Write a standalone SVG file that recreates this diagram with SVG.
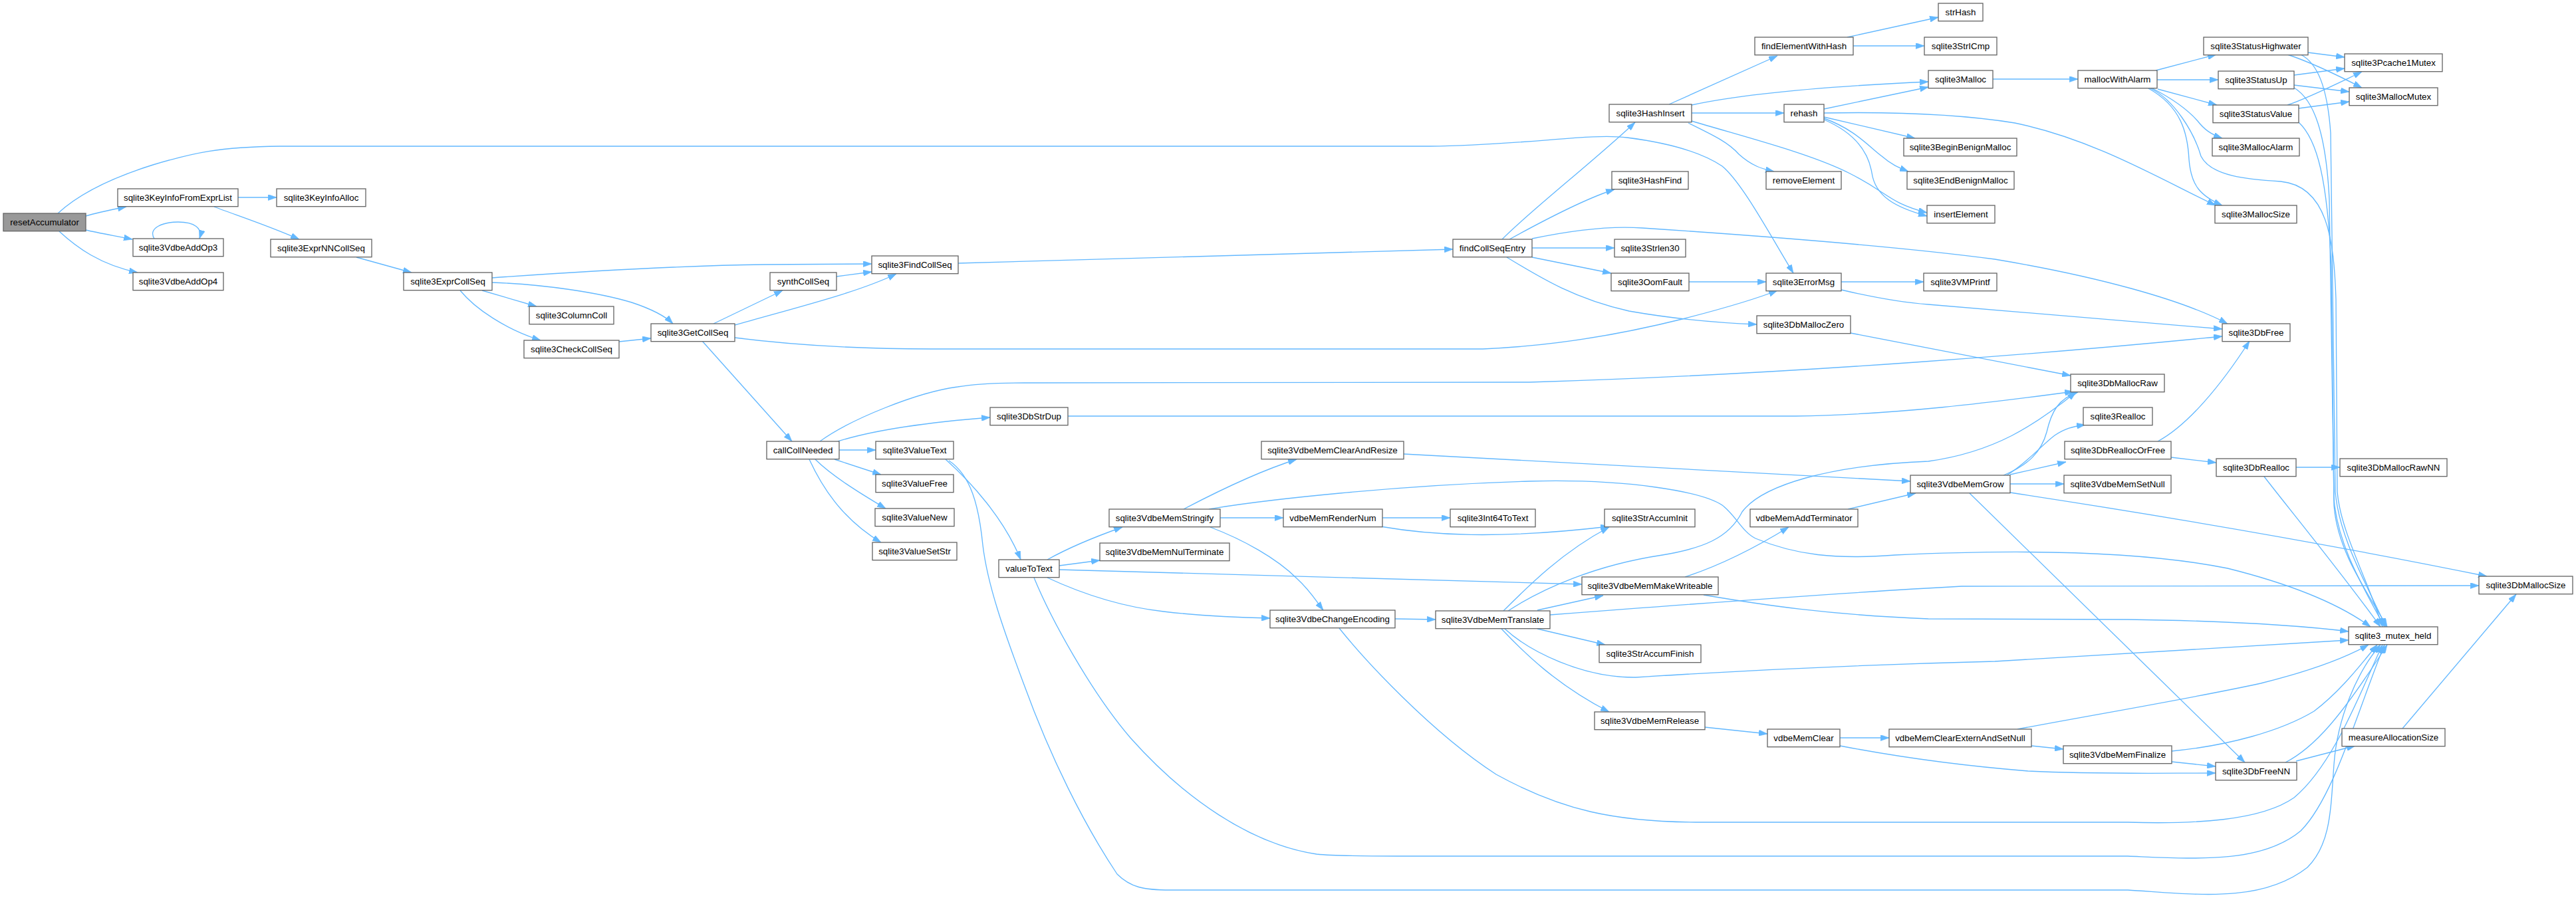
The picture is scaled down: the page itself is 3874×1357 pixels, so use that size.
<svg xmlns="http://www.w3.org/2000/svg" width="3874" height="1357" viewBox="0 0 3874 1357">
<style>
.n rect{fill:#ffffff;stroke:#666666;stroke-width:1.33}
.n text{font-family:"Liberation Sans",Arial,Helvetica,sans-serif;font-size:13.33px;text-anchor:middle;fill:#000000}
#n_resetAccumulator rect{fill:#999999}
.e path{fill:none;stroke:#63b8ff;stroke-width:1.33;marker-end:url(#arr)}
</style>
<defs>
<marker id="arr" viewBox="0 0 10 7" refX="10" refY="3.5" markerWidth="13" markerHeight="9" markerUnits="userSpaceOnUse" orient="auto">
<path d="M0,0 L10,3.5 L0,7 z" fill="#63b8ff" stroke="#63b8ff" stroke-width="0.5"/>
</marker>
</defs>
<rect width="3874" height="1357" fill="#ffffff"/>
<g id="edges" class="e">
<path d="M129,325 C145,320 165,316 190,311"/>
<path d="M129,346 C150,351 175,355 199,360"/>
<path d="M89,348 C115,372 150,398 207,410"/>
<path d="M87,321 C115,295 160,270 230,248 C290,230 330,221 420,220 L2150,220 C2300,218 2390,200 2447,207 C2510,215 2560,230 2590,250 C2620,275 2660,350 2697,411"/>
<path d="M232,359 C222,343 245,334 268,334 C292,334 305,343 300,359"/>
<path d="M358,297 L416,297"/>
<path d="M322,311 C350,322 400,338 450,360"/>
<path d="M536,387 L619,410"/>
<path d="M740,418 C850,410 1000,400 1150,398 L1311,397"/>
<path d="M725,437 L807,461"/>
<path d="M692,437 C715,465 760,495 813,512"/>
<path d="M740,425 C820,428 900,440 950,455 C980,465 1000,475 1012,487"/>
<path d="M931,514 L979,509"/>
<path d="M1073,487 L1177,437"/>
<path d="M1105,489 C1200,462 1290,440 1348,412"/>
<path d="M1056,513 L1191,664"/>
<path d="M1105,508 C1200,520 1300,525 1400,525 L2230,525 C2350,520 2450,500 2530,480 C2600,462 2640,450 2673,437"/>
<path d="M1258,416 L1311,409"/>
<path d="M1441,396 L2185,375"/>
<path d="M2259,360 C2300,318 2400,240 2459,184"/>
<path d="M2270,360 C2310,338 2380,300 2428,285"/>
<path d="M2304,373 L2428,373"/>
<path d="M2304,387 L2423,411"/>
<path d="M2266,387 C2320,420 2370,450 2450,468 C2530,482 2590,486 2642,488"/>
<path d="M2304,359 C2380,343 2430,340 2470,343 C2650,355 2850,370 3000,390 C3150,415 3280,450 3350,487"/>
<path d="M2510,157 L2673,84"/>
<path d="M2544,158 C2600,146 2700,132 2900,123"/>
<path d="M2544,170 L2683,170"/>
<path d="M2539,185 C2580,205 2600,215 2615,232 C2635,250 2650,254 2668,258"/>
<path d="M2544,182 C2620,205 2720,230 2780,260 C2840,290 2840,305 2898,320"/>
<path d="M2778,56 L2915,26"/>
<path d="M2787,69 L2894,69"/>
<path d="M2743,164 L2900,131"/>
<path d="M2743,176 L2880,208"/>
<path d="M2743,178 C2790,195 2810,220 2830,235 C2845,248 2855,252 2870,258"/>
<path d="M2743,180 C2790,200 2810,230 2815,260 C2820,295 2850,312 2898,325"/>
<path d="M2743,170 C2850,168 2950,172 3030,185 C3150,210 3250,270 3332,309"/>
<path d="M2997,119 L3125,119"/>
<path d="M3242,106 L3333,82"/>
<path d="M3244,120 L3336,120"/>
<path d="M3245,134 L3334,158"/>
<path d="M3237,133 C3270,150 3290,165 3305,182 C3315,195 3325,202 3342,208"/>
<path d="M3231,133 C3280,160 3290,200 3292,240 C3295,280 3310,295 3342,309"/>
<path d="M3234,133 C3270,150 3300,200 3310,235 C3325,265 3380,270 3430,273 C3500,280 3510,360 3513,450 L3515,740 C3520,800 3560,870 3583,943"/>
<path d="M3471,79 L3526,86"/>
<path d="M3440,82 C3470,92 3500,105 3552,132"/>
<path d="M3460,82 C3485,95 3500,130 3505,200 L3512,740 C3518,810 3560,880 3588,943"/>
<path d="M3450,113 L3526,103"/>
<path d="M3450,128 L3533,138"/>
<path d="M3450,132 C3480,150 3498,200 3503,300 L3510,750 C3515,820 3555,885 3586,943"/>
<path d="M3440,158 C3470,148 3510,128 3552,108"/>
<path d="M3457,163 L3533,153"/>
<path d="M3457,184 C3485,210 3500,270 3506,400 L3510,760 C3515,830 3560,890 3590,943"/>
<path d="M2540,424 L2656,424"/>
<path d="M2769,424 L2893,424"/>
<path d="M2769,436 C2820,448 2860,455 2900,458 L3342,495"/>
<path d="M2783,501 L3114,565"/>
<path d="M1233,664 C1280,630 1380,590 1440,582 C1470,577 1500,576 1540,576 L2300,575 C2700,563 3100,530 3342,506"/>
<path d="M1260,664 C1320,645 1400,635 1489,628"/>
<path d="M1262,677 L1317,677"/>
<path d="M1255,691 L1325,714"/>
<path d="M1226,691 C1250,715 1290,740 1332,765"/>
<path d="M1217,691 C1235,730 1265,780 1325,816"/>
<path d="M1606,626 L2700,626 C2850,624 3000,605 3118,589"/>
<path d="M1422,691 C1460,725 1510,780 1535,842"/>
<path d="M1427,693 C1460,715 1472,760 1478,820 C1485,880 1510,950 1540,1030 C1580,1140 1630,1240 1680,1315 C1700,1335 1720,1339 1760,1339 L3200,1339 C3300,1345 3400,1360 3470,1305 C3505,1270 3505,1220 3510,1150 C3515,1080 3545,1010 3580,970"/>
<path d="M1575,842 C1600,828 1640,810 1688,793"/>
<path d="M1593,851 L1654,843"/>
<path d="M1593,857 L2379,879"/>
<path d="M1575,869 C1620,890 1680,912 1750,920 C1800,926 1860,929 1910,930"/>
<path d="M1555,869 C1580,930 1640,1040 1700,1110 C1780,1200 1880,1270 1980,1285 C2010,1288 2050,1288 2100,1288 L3200,1288 C3300,1292 3400,1300 3460,1250 C3510,1200 3545,1070 3586,970"/>
<path d="M1780,766 C1820,745 1890,710 1950,691"/>
<path d="M1835,779 L1930,779"/>
<path d="M1820,793 C1870,812 1920,840 1950,870 C1970,888 1980,905 1990,918"/>
<path d="M1818,766 C1900,752 2100,730 2300,724 C2450,720 2560,740 2590,760 C2610,775 2620,800 2640,810 C2700,835 2760,842 2850,835 C3000,828 3200,825 3350,855 C3450,880 3520,910 3565,943"/>
<path d="M2111,683 L2873,724"/>
<path d="M2079,779 L2181,779"/>
<path d="M2076,792 C2150,805 2250,812 2420,792"/>
<path d="M2098,931 L2159,932"/>
<path d="M2014,945 C2050,990 2150,1100 2250,1165 C2350,1220 2430,1236 2550,1237 L3200,1237 C3300,1240 3400,1235 3450,1200 C3510,1150 3550,1040 3583,970"/>
<path d="M2261,919 C2300,880 2350,830 2420,793"/>
<path d="M2312,918 L2411,896"/>
<path d="M2312,946 L2414,970"/>
<path d="M2258,946 C2290,980 2340,1030 2420,1071"/>
<path d="M2268,919 C2320,885 2400,850 2500,835 C2560,825 2600,810 2620,770 C2650,730 2750,700 2900,694 C3000,680 3060,640 3122,590"/>
<path d="M2331,925 C2500,912 2800,890 2950,882 L3728,881"/>
<path d="M2263,946 C2300,980 2380,1020 2460,1019 C2600,1010 2800,1000 3000,995 L3532,963"/>
<path d="M2534,868 C2580,853 2630,830 2690,793"/>
<path d="M2562,895 C2650,910 2750,925 2900,931 L3200,932 C3350,934 3450,940 3532,950"/>
<path d="M2779,766 L2881,742"/>
<path d="M2564,1094 L2658,1104"/>
<path d="M2767,1110 L2841,1110"/>
<path d="M2767,1122 C2850,1138 2950,1152 3050,1160 C3150,1165 3250,1163 3332,1163"/>
<path d="M3055,1122 L3103,1127"/>
<path d="M3034,1097 C3150,1075 3300,1050 3400,1028 C3480,1008 3530,988 3562,970"/>
<path d="M3266,1146 L3332,1153"/>
<path d="M3266,1130 C3350,1122 3430,1100 3480,1070 C3520,1040 3550,1000 3575,970"/>
<path d="M3437,1147 C3480,1125 3520,1080 3590,970"/>
<path d="M3453,1145 L3542,1122"/>
<path d="M3613,1096 L3784,894"/>
<path d="M3013,715 C3050,700 3070,680 3078,650 C3085,620 3095,600 3125,590"/>
<path d="M3018,715 C3050,695 3070,670 3090,655 C3105,645 3115,642 3136,639"/>
<path d="M3023,714 L3107,695"/>
<path d="M3023,728 L3104,728"/>
<path d="M2962,742 L3376,1147"/>
<path d="M3023,741 C3200,768 3450,808 3740,867"/>
<path d="M3265,688 L3333,696"/>
<path d="M3245,664 C3290,640 3340,580 3383,513"/>
<path d="M3453,703 L3519,703"/>
<path d="M3405,717 C3450,775 3520,860 3580,943"/>
</g>
<g id="n_resetAccumulator" class="n"><rect x="5" y="321" width="124" height="26.7"/><text x="67" y="339">resetAccumulator</text></g>
<g id="n_sqlite3KeyInfoFromExprList" class="n"><rect x="177" y="284" width="181" height="26.7"/><text x="267.5" y="302">sqlite3KeyInfoFromExprList</text></g>
<g id="n_sqlite3KeyInfoAlloc" class="n"><rect x="416" y="284" width="134" height="26.7"/><text x="483" y="302">sqlite3KeyInfoAlloc</text></g>
<g id="n_sqlite3VdbeAddOp3" class="n"><rect x="200" y="359" width="136" height="26.7"/><text x="268" y="377">sqlite3VdbeAddOp3</text></g>
<g id="n_sqlite3VdbeAddOp4" class="n"><rect x="200" y="410" width="136" height="26.7"/><text x="268" y="428">sqlite3VdbeAddOp4</text></g>
<g id="n_sqlite3ExprNNCollSeq" class="n"><rect x="407" y="360" width="152" height="26.7"/><text x="483" y="378">sqlite3ExprNNCollSeq</text></g>
<g id="n_sqlite3ExprCollSeq" class="n"><rect x="607" y="410" width="133" height="26.7"/><text x="673.5" y="428">sqlite3ExprCollSeq</text></g>
<g id="n_sqlite3ColumnColl" class="n"><rect x="796" y="461" width="127" height="26.7"/><text x="859.5" y="479">sqlite3ColumnColl</text></g>
<g id="n_sqlite3CheckCollSeq" class="n"><rect x="788" y="512" width="143" height="26.7"/><text x="859.5" y="530">sqlite3CheckCollSeq</text></g>
<g id="n_sqlite3GetCollSeq" class="n"><rect x="979" y="487" width="126" height="26.7"/><text x="1042" y="505">sqlite3GetCollSeq</text></g>
<g id="n_synthCollSeq" class="n"><rect x="1158" y="410" width="100" height="26.7"/><text x="1208" y="428">synthCollSeq</text></g>
<g id="n_sqlite3FindCollSeq" class="n"><rect x="1311" y="385" width="130" height="26.7"/><text x="1376" y="403">sqlite3FindCollSeq</text></g>
<g id="n_callCollNeeded" class="n"><rect x="1153" y="664" width="109" height="26.7"/><text x="1207.5" y="682">callCollNeeded</text></g>
<g id="n_sqlite3DbStrDup" class="n"><rect x="1489" y="613" width="117" height="26.7"/><text x="1547.5" y="631">sqlite3DbStrDup</text></g>
<g id="n_sqlite3ValueText" class="n"><rect x="1317" y="664" width="117" height="26.7"/><text x="1375.5" y="682">sqlite3ValueText</text></g>
<g id="n_sqlite3ValueFree" class="n"><rect x="1317" y="714" width="117" height="26.7"/><text x="1375.5" y="732">sqlite3ValueFree</text></g>
<g id="n_sqlite3ValueNew" class="n"><rect x="1316" y="765" width="119" height="26.7"/><text x="1375.5" y="783">sqlite3ValueNew</text></g>
<g id="n_sqlite3ValueSetStr" class="n"><rect x="1312" y="816" width="127" height="26.7"/><text x="1375.5" y="834">sqlite3ValueSetStr</text></g>
<g id="n_valueToText" class="n"><rect x="1502" y="842" width="91" height="26.7"/><text x="1547.5" y="860">valueToText</text></g>
<g id="n_sqlite3VdbeMemStringify" class="n"><rect x="1668" y="766" width="167" height="26.7"/><text x="1751.5" y="784">sqlite3VdbeMemStringify</text></g>
<g id="n_sqlite3VdbeMemNulTerminate" class="n"><rect x="1654" y="817" width="195" height="26.7"/><text x="1751.5" y="835">sqlite3VdbeMemNulTerminate</text></g>
<g id="n_sqlite3VdbeMemClearAndResize" class="n"><rect x="1897" y="664" width="214" height="26.7"/><text x="2004" y="682">sqlite3VdbeMemClearAndResize</text></g>
<g id="n_vdbeMemRenderNum" class="n"><rect x="1930" y="766" width="149" height="26.7"/><text x="2004.5" y="784">vdbeMemRenderNum</text></g>
<g id="n_sqlite3VdbeChangeEncoding" class="n"><rect x="1910" y="918" width="188" height="26.7"/><text x="2004" y="936">sqlite3VdbeChangeEncoding</text></g>
<g id="n_findCollSeqEntry" class="n"><rect x="2185" y="360" width="119" height="26.7"/><text x="2244.5" y="378">findCollSeqEntry</text></g>
<g id="n_sqlite3Int64ToText" class="n"><rect x="2181" y="766" width="128" height="26.7"/><text x="2245" y="784">sqlite3Int64ToText</text></g>
<g id="n_sqlite3VdbeMemTranslate" class="n"><rect x="2159" y="919" width="172" height="26.7"/><text x="2245" y="937">sqlite3VdbeMemTranslate</text></g>
<g id="n_sqlite3HashInsert" class="n"><rect x="2420" y="157" width="124" height="26.7"/><text x="2482" y="175">sqlite3HashInsert</text></g>
<g id="n_sqlite3HashFind" class="n"><rect x="2424" y="258" width="115" height="26.7"/><text x="2481.5" y="276">sqlite3HashFind</text></g>
<g id="n_sqlite3Strlen30" class="n"><rect x="2428" y="360" width="107" height="26.7"/><text x="2481.5" y="378">sqlite3Strlen30</text></g>
<g id="n_sqlite3OomFault" class="n"><rect x="2423" y="411" width="117" height="26.7"/><text x="2481.5" y="429">sqlite3OomFault</text></g>
<g id="n_sqlite3StrAccumInit" class="n"><rect x="2413" y="766" width="136" height="26.7"/><text x="2481" y="784">sqlite3StrAccumInit</text></g>
<g id="n_sqlite3VdbeMemMakeWriteable" class="n"><rect x="2379" y="868" width="205" height="26.7"/><text x="2481.5" y="886">sqlite3VdbeMemMakeWriteable</text></g>
<g id="n_sqlite3StrAccumFinish" class="n"><rect x="2405" y="970" width="153" height="26.7"/><text x="2481.5" y="988">sqlite3StrAccumFinish</text></g>
<g id="n_sqlite3VdbeMemRelease" class="n"><rect x="2398" y="1071" width="166" height="26.7"/><text x="2481" y="1089">sqlite3VdbeMemRelease</text></g>
<g id="n_findElementWithHash" class="n"><rect x="2639" y="56" width="148" height="26.7"/><text x="2713" y="74">findElementWithHash</text></g>
<g id="n_rehash" class="n"><rect x="2683" y="157" width="60" height="26.7"/><text x="2713" y="175">rehash</text></g>
<g id="n_removeElement" class="n"><rect x="2656" y="258" width="113" height="26.7"/><text x="2712.5" y="276">removeElement</text></g>
<g id="n_sqlite3ErrorMsg" class="n"><rect x="2656" y="411" width="113" height="26.7"/><text x="2712.5" y="429">sqlite3ErrorMsg</text></g>
<g id="n_sqlite3DbMallocZero" class="n"><rect x="2642" y="475" width="141" height="26.7"/><text x="2712.5" y="493">sqlite3DbMallocZero</text></g>
<g id="n_vdbeMemAddTerminator" class="n"><rect x="2632" y="766" width="162" height="26.7"/><text x="2713" y="784">vdbeMemAddTerminator</text></g>
<g id="n_vdbeMemClear" class="n"><rect x="2658" y="1097" width="109" height="26.7"/><text x="2712.5" y="1115">vdbeMemClear</text></g>
<g id="n_strHash" class="n"><rect x="2915" y="5" width="67" height="26.7"/><text x="2948.5" y="23">strHash</text></g>
<g id="n_sqlite3StrICmp" class="n"><rect x="2894" y="56" width="109" height="26.7"/><text x="2948.5" y="74">sqlite3StrICmp</text></g>
<g id="n_sqlite3Malloc" class="n"><rect x="2900" y="106" width="97" height="26.7"/><text x="2948.5" y="124">sqlite3Malloc</text></g>
<g id="n_sqlite3BeginBenignMalloc" class="n"><rect x="2863" y="208" width="170" height="26.7"/><text x="2948" y="226">sqlite3BeginBenignMalloc</text></g>
<g id="n_sqlite3EndBenignMalloc" class="n"><rect x="2868" y="258" width="161" height="26.7"/><text x="2948.5" y="276">sqlite3EndBenignMalloc</text></g>
<g id="n_insertElement" class="n"><rect x="2898" y="309" width="102" height="26.7"/><text x="2949" y="327">insertElement</text></g>
<g id="n_sqlite3VMPrintf" class="n"><rect x="2893" y="411" width="110" height="26.7"/><text x="2948" y="429">sqlite3VMPrintf</text></g>
<g id="n_sqlite3VdbeMemGrow" class="n"><rect x="2873" y="715" width="150" height="26.7"/><text x="2948" y="733">sqlite3VdbeMemGrow</text></g>
<g id="n_vdbeMemClearExternAndSetNull" class="n"><rect x="2841" y="1097" width="214" height="26.7"/><text x="2948" y="1115">vdbeMemClearExternAndSetNull</text></g>
<g id="n_mallocWithAlarm" class="n"><rect x="3125" y="106" width="119" height="26.7"/><text x="3184.5" y="124">mallocWithAlarm</text></g>
<g id="n_sqlite3DbMallocRaw" class="n"><rect x="3114" y="563" width="141" height="26.7"/><text x="3184.5" y="581">sqlite3DbMallocRaw</text></g>
<g id="n_sqlite3Realloc" class="n"><rect x="3133" y="613" width="104" height="26.7"/><text x="3185" y="631">sqlite3Realloc</text></g>
<g id="n_sqlite3DbReallocOrFree" class="n"><rect x="3105" y="664" width="160" height="26.7"/><text x="3185" y="682">sqlite3DbReallocOrFree</text></g>
<g id="n_sqlite3VdbeMemSetNull" class="n"><rect x="3104" y="715" width="161" height="26.7"/><text x="3184.5" y="733">sqlite3VdbeMemSetNull</text></g>
<g id="n_sqlite3VdbeMemFinalize" class="n"><rect x="3103" y="1122" width="163" height="26.7"/><text x="3184.5" y="1140">sqlite3VdbeMemFinalize</text></g>
<g id="n_sqlite3StatusHighwater" class="n"><rect x="3314" y="56" width="157" height="26.7"/><text x="3392.5" y="74">sqlite3StatusHighwater</text></g>
<g id="n_sqlite3StatusUp" class="n"><rect x="3336" y="107" width="114" height="26.7"/><text x="3393" y="125">sqlite3StatusUp</text></g>
<g id="n_sqlite3StatusValue" class="n"><rect x="3328" y="158" width="129" height="26.7"/><text x="3392.5" y="176">sqlite3StatusValue</text></g>
<g id="n_sqlite3MallocAlarm" class="n"><rect x="3327" y="208" width="131" height="26.7"/><text x="3392.5" y="226">sqlite3MallocAlarm</text></g>
<g id="n_sqlite3MallocSize" class="n"><rect x="3331" y="309" width="123" height="26.7"/><text x="3392.5" y="327">sqlite3MallocSize</text></g>
<g id="n_sqlite3DbFree" class="n"><rect x="3342" y="487" width="102" height="26.7"/><text x="3393" y="505">sqlite3DbFree</text></g>
<g id="n_sqlite3DbRealloc" class="n"><rect x="3333" y="690" width="120" height="26.7"/><text x="3393" y="708">sqlite3DbRealloc</text></g>
<g id="n_sqlite3DbFreeNN" class="n"><rect x="3332" y="1147" width="122" height="26.7"/><text x="3393" y="1165">sqlite3DbFreeNN</text></g>
<g id="n_sqlite3Pcache1Mutex" class="n"><rect x="3526" y="81" width="147" height="26.7"/><text x="3599.5" y="99">sqlite3Pcache1Mutex</text></g>
<g id="n_sqlite3MallocMutex" class="n"><rect x="3533" y="132" width="133" height="26.7"/><text x="3599.5" y="150">sqlite3MallocMutex</text></g>
<g id="n_sqlite3DbMallocRawNN" class="n"><rect x="3519" y="690" width="161" height="26.7"/><text x="3599.5" y="708">sqlite3DbMallocRawNN</text></g>
<g id="n_sqlite3_mutex_held" class="n"><rect x="3532" y="943" width="134" height="26.7"/><text x="3599" y="961">sqlite3_mutex_held</text></g>
<g id="n_measureAllocationSize" class="n"><rect x="3522" y="1096" width="155" height="26.7"/><text x="3599.5" y="1114">measureAllocationSize</text></g>
<g id="n_sqlite3DbMallocSize" class="n"><rect x="3728" y="867" width="141" height="26.7"/><text x="3798.5" y="885">sqlite3DbMallocSize</text></g>
</svg>
